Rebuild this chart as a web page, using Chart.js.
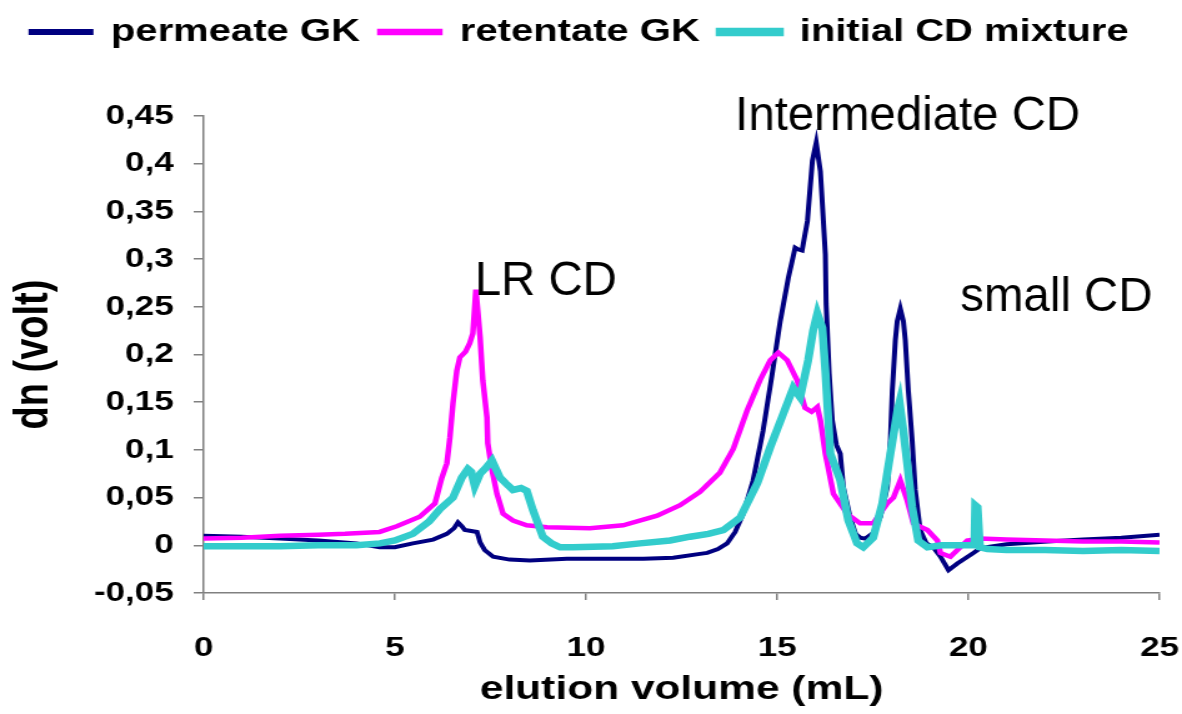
<!DOCTYPE html>
<html>
<head>
<meta charset="utf-8">
<script src="https://cdn.jsdelivr.net/npm/chart.js@4.4.1/dist/chart.umd.min.js"></script>
<style>
  html, body { margin: 0; padding: 0; background: #fff; overflow: hidden; }
  #gpc { display: block; transform: scaleX(1.2495); transform-origin: 0 0; }
</style>
</head>
<body>
<canvas id="gpc" width="946" height="714"></canvas>
<script>
// elution volume (mL) / dn (volt)
const permeateX = [0, 1, 2, 3, 4, 4.6, 5.0, 5.47, 6.0, 6.36, 6.55, 6.65, 6.75, 6.83, 7.0, 7.15, 7.23, 7.35, 7.57, 8.0,
  8.53, 9.5, 10.5, 11.5, 12.28, 12.98, 13.17, 13.45, 13.69, 13.9, 14.11, 14.37, 14.63, 14.87, 15.08, 15.29, 15.47, 15.56,
  15.65, 15.79, 15.92, 16.02, 16.13, 16.2, 16.26, 16.28, 16.36, 16.44, 16.55, 16.65, 16.73, 16.91, 17.05, 17.17, 17.3,
  17.51, 17.7, 17.88, 17.96, 18.01, 18.09, 18.14, 18.22, 18.3, 18.35, 18.43, 18.53, 18.61, 18.74, 18.9, 19.08, 19.27,
  19.48, 19.71, 20.13, 20.31, 21, 22.07, 23, 24, 25];
const permeateY = [0.010, 0.009, 0.007, 0.005, 0.002, -0.002, -0.002, 0.002, 0.006, 0.012, 0.018, 0.024, 0.020, 0.016, 0.015, 0.014, 0.003, -0.005, -0.012, -0.015,
  -0.016, -0.014, -0.014, -0.014, -0.013, -0.009, -0.008, -0.004, 0.002, 0.014, 0.033, 0.068, 0.120, 0.180, 0.235, 0.280, 0.312, 0.310,
  0.309, 0.340, 0.403, 0.422, 0.392, 0.345, 0.305, 0.253, 0.180, 0.131, 0.105, 0.096, 0.061, 0.029, 0.012, 0.008, 0.007,
  0.013, 0.030, 0.061, 0.110, 0.162, 0.215, 0.235, 0.248, 0.235, 0.215, 0.162, 0.110, 0.058, 0.016, 0.002, -0.002, -0.012,
  -0.026, -0.019, -0.008, -0.003, 0.001, 0.004, 0.006, 0.008, 0.011];

const retentateX = [0, 1, 2, 3, 3.7, 4.6, 5.05, 5.65, 6.05, 6.23, 6.36, 6.44, 6.52, 6.62, 6.70, 6.85, 6.96, 7.04, 7.12, 7.23,
  7.30, 7.41, 7.43, 7.54, 7.67, 7.83, 8.09, 8.45, 8.98, 10.1, 10.97, 11.86, 12.46, 12.98, 13.5, 13.85, 14.21, 14.55, 14.82,
  15.03, 15.26, 15.52, 15.73, 15.9, 16.05, 16.13, 16.26, 16.47, 16.83, 17.17, 17.51, 17.88, 18.04, 18.22, 18.40, 18.56,
  18.93, 19.19, 19.27, 19.53, 19.97, 20.31, 21, 22, 23, 24, 25];
const retentateY = [0.007, 0.008, 0.010, 0.011, 0.012, 0.014, 0.020, 0.030, 0.044, 0.071, 0.086, 0.113, 0.149, 0.183, 0.197, 0.203, 0.212, 0.222, 0.268, 0.218,
  0.173, 0.134, 0.107, 0.079, 0.054, 0.033, 0.026, 0.021, 0.019, 0.018, 0.021, 0.031, 0.042, 0.056, 0.076, 0.101, 0.141, 0.173, 0.194,
  0.202, 0.194, 0.173, 0.144, 0.140, 0.145, 0.131, 0.096, 0.054, 0.033, 0.023, 0.023, 0.044, 0.050, 0.068, 0.047, 0.023,
  0.016, 0.005, -0.008, -0.012, 0.005, 0.007, 0.006, 0.005, 0.004, 0.004, 0.003];

const initialX = [0, 1, 2, 3, 4, 4.61, 5.0, 5.47, 5.9, 6.18, 6.52, 6.75, 6.91, 7.0, 7.09, 7.23, 7.4, 7.54, 7.75, 7.9,
  8.09, 8.3, 8.45, 8.61, 8.87, 9.1, 9.32, 9.66, 10.7, 11.41, 12.2, 12.72, 13.2, 13.59, 14.03, 14.48, 14.82, 15.16, 15.42,
  15.6, 15.81, 15.94, 16.05, 16.18, 16.26, 16.39, 16.65, 16.86, 17.09, 17.25, 17.51, 17.75, 17.96, 18.14, 18.2, 18.3,
  18.4, 18.53, 18.69, 18.93, 19.3, 20.16, 20.18, 20.24, 20.3, 20.5, 21, 22, 23, 24, 25];
const initialY = [-0.001, -0.001, -0.001, 0.000, 0.000, 0.002, 0.005, 0.012, 0.025, 0.038, 0.050, 0.071, 0.080, 0.077, 0.062, 0.075, 0.082, 0.089, 0.071, 0.065,
  0.058, 0.060, 0.057, 0.037, 0.009, 0.002, -0.002, -0.002, -0.001, 0.002, 0.005, 0.009, 0.012, 0.016, 0.029, 0.065, 0.103, 0.138, 0.165,
  0.155, 0.194, 0.225, 0.243, 0.228, 0.183, 0.096, 0.068, 0.026, 0.002, -0.002, 0.008, 0.044, 0.096, 0.140, 0.150, 0.120,
  0.086, 0.040, 0.005, -0.002, 0.000, 0.000, 0.042, 0.040, -0.002, -0.004, -0.005, -0.005, -0.006, -0.005, -0.006];

const seriesNames = ['permeate GK', 'retentate GK', 'initial CD mixture'];
const xTicks = [0, 5, 10, 15, 20, 25];
const yTicks = [-0.05, 0, 0.05, 0.1, 0.15, 0.2, 0.25, 0.3, 0.35, 0.4, 0.45];

const peakLabels = ['LR CD', 'Intermediate CD', 'small CD'];
const peakLabelAt = [[7.09, 0.262], [13.9, 0.435], [19.79, 0.246]];

function pts(xs, ys) {
  return xs.map((x, i) => ({ x: x, y: ys[i] }));
}

// peak names, drawn narrow like the original text boxes
const peakText = {
  id: 'peakText',
  afterDatasetsDraw(chart) {
    const ctx = chart.ctx;
    const xs = chart.scales.x, ys = chart.scales.y;
    ctx.save();
    ctx.fillStyle = '#000';
    ctx.font = '48px "Liberation Sans", Arial, sans-serif';
    ctx.textBaseline = 'alphabetic';
    ctx.textAlign = 'left';
    peakLabels.forEach((t, i) => {
      ctx.save();
      ctx.translate(xs.getPixelForValue(peakLabelAt[i][0]), ys.getPixelForValue(peakLabelAt[i][1]));
      ctx.scale(0.79, 1);
      ctx.fillText(t, 0, 0);
      ctx.restore();
    });
    ctx.restore();
  }
};

// give the legend the whole band above the plot
const legendBand = {
  id: 'legendBand',
  beforeInit(chart) {
    const fit = chart.legend.fit;
    chart.legend.fit = function () {
      fit.call(this);
      this.height = 116;
    };
  }
};

const axisGray = '#808080';
const tickFont = { family: '"Liberation Sans", Arial, sans-serif', size: 28, weight: 'bold' };

new Chart(document.getElementById('gpc'), {
  type: 'line',
  data: {
    datasets: [
      { label: seriesNames[0], data: pts(permeateX, permeateY), borderColor: '#000080', backgroundColor: '#000080', borderWidth: 4, order: 3 },
      { label: seriesNames[1], data: pts(retentateX, retentateY), borderColor: '#FF00FF', backgroundColor: '#FF00FF', borderWidth: 4.5, order: 2 },
      { label: seriesNames[2], data: pts(initialX, initialY), borderColor: '#33CCCC', backgroundColor: '#33CCCC', borderWidth: 6.5, order: 1 }
    ]
  },
  options: {
    responsive: false,
    animation: false,
    devicePixelRatio: 1,
    layout: { padding: { left: 0, right: 18, top: 0, bottom: 0 } },
    elements: { point: { radius: 0 }, line: { tension: 0 } },
    plugins: {
      tooltip: { enabled: false },
      legend: {
        position: 'top',
        labels: {
          boxWidth: 48,
          boxHeight: 2,
          padding: 16,
          color: '#000',
          font: { family: '"Liberation Sans", Arial, sans-serif', size: 32, weight: 'bold' },
          sort: (a, b) => a.datasetIndex - b.datasetIndex
        }
      }
    },
    scales: {
      x: {
        type: 'linear',
        min: 0,
        max: 25,
        afterBuildTicks(scale) { scale.ticks = xTicks.map(v => ({ value: v })); },
        afterFit(scale) { scale.height = 121; scale.paddingLeft = 0; scale.paddingRight = 0; },
        grid: { drawOnChartArea: false, drawTicks: true, tickLength: 7, color: axisGray, lineWidth: 1.5 },
        border: { display: true, color: axisGray, width: 1.5 },
        ticks: { color: '#000', font: tickFont, padding: 31, maxRotation: 0 },
        title: {
          display: true,
          text: 'elution volume (mL)',
          color: '#000',
          font: { family: '"Liberation Sans", Arial, sans-serif', size: 34, weight: 'bold' },
          padding: { top: 0, bottom: 4 }
        }
      },
      y: {
        min: -0.05,
        max: 0.45,
        afterBuildTicks(scale) { scale.ticks = yTicks.map(v => ({ value: v })); },
        afterFit(scale) { scale.width = 163; },
        grid: { drawOnChartArea: false, drawTicks: true, tickLength: 8, color: axisGray, lineWidth: 1.5 },
        border: { display: true, color: axisGray, width: 1.5 },
        ticks: {
          color: '#000',
          font: tickFont,
          padding: 16,
          callback: v => String(+v.toFixed(2)).replace('.', ',')
        },
        title: {
          display: true,
          text: 'dn (volt)',
          color: '#000',
          font: { family: '"Liberation Sans", Arial, sans-serif', size: 38, weight: 'bold' },
          padding: { top: 5, bottom: 0 }
        }
      }
    }
  },
  plugins: [peakText, legendBand]
});
</script>
</body>
</html>
